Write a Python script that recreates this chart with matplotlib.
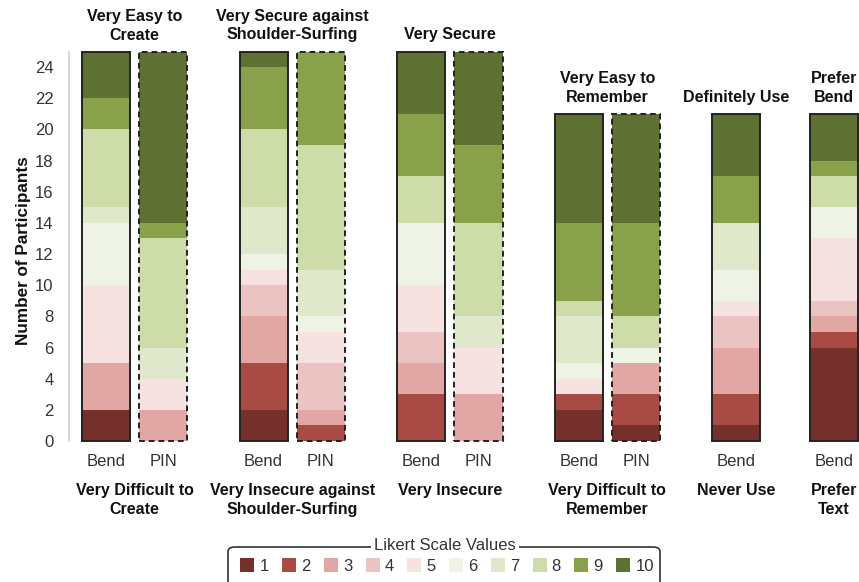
import matplotlib
matplotlib.use("Agg")
import matplotlib.pyplot as plt
from matplotlib.patches import Rectangle, FancyBboxPatch, Patch
import numpy as np

plt.rcParams['font.family'] = ['Liberation Sans', 'DejaVu Sans']

# ---- data ----
bar_labels = ["Bend", "PIN", "Bend", "PIN", "Bend", "PIN", "Bend", "PIN", "Bend", "Bend"]
bar_group = [0, 0, 1, 1, 2, 2, 3, 3, 4, 5]
top_labels = ["Very Easy to\nCreate", "Very Secure against\nShoulder-Surfing", "Very Secure",
              "Very Easy to\nRemember", "Definitely Use", "Prefer\nBend"]
bottom_labels = ["Very Difficult to\nCreate", "Very Insecure against\nShoulder-Surfing", "Very Insecure",
                 "Very Difficult to\nRemember", "Never Use", "Prefer\nText"]
likert_levels = ["1", "2", "3", "4", "5", "6", "7", "8", "9", "10"]
level_1 = [2, 0, 2, 0, 0, 0, 2, 1, 1, 6]
level_2 = [0, 0, 3, 1, 3, 0, 1, 2, 2, 1]
level_3 = [3, 2, 3, 1, 2, 3, 0, 2, 3, 1]
level_4 = [0, 0, 2, 3, 2, 0, 0, 0, 2, 1]
level_5 = [5, 2, 1, 2, 3, 3, 1, 0, 1, 4]
level_6 = [4, 0, 1, 1, 4, 0, 1, 1, 2, 2]
level_7 = [1, 2, 3, 3, 0, 2, 3, 0, 3, 0]
level_8 = [5, 7, 5, 8, 3, 6, 1, 2, 0, 2]
level_9 = [2, 1, 4, 6, 4, 5, 5, 6, 3, 1]
level_10 = [3, 11, 1, 0, 4, 6, 7, 7, 4, 3]
counts = [level_1, level_2, level_3, level_4, level_5, level_6, level_7, level_8, level_9, level_10]

colors = ["#76302c", "#a84b45", "#e2a6a4", "#ecc3c3", "#f5e2e1",
          "#eff3e5", "#dfe8cb", "#cddca8", "#8aa14b", "#5e7133"]

# ---- layout ----
x_pos = np.array([0, 1, 2.75, 3.75, 5.5, 6.5, 8.25, 9.25, 11, 12.7])
width = 0.84

W, H = 859, 582
fig = plt.figure(figsize=(W / 100, H / 100), dpi=100)
ax = fig.add_axes([69 / W, (H - 441) / H, (W - 69) / W, (441 - 51.5) / H])

bottoms = np.zeros(len(x_pos))
for lvl, vals in enumerate(counts):
    vals = np.array(vals, dtype=float)
    ax.bar(x_pos, vals, width=width, bottom=bottoms, color=colors[lvl],
           edgecolor='none', linewidth=0, zorder=2)
    bottoms += vals

totals = bottoms
for x, tot, lab in zip(x_pos, totals, bar_labels):
    ls = '-' if lab == "Bend" else (0, (3, 2))
    ax.add_patch(Rectangle((x - width / 2, 0), width, tot, fill=False,
                           edgecolor='#222222', linewidth=1.4, linestyle=ls,
                           zorder=3, clip_on=False))

ax.set_xlim(-0.646, 13.14)
ax.set_ylim(0, 25)
ax.set_yticks(np.arange(0, 25, 2))
ax.tick_params(axis='y', length=0, pad=11, labelsize=12, labelcolor='#333333')
ax.set_xticks(x_pos)
ax.set_xticklabels(bar_labels)
ax.tick_params(axis='x', length=0, pad=9, labelsize=12, labelcolor='#333333')
for s in ['top', 'right', 'bottom']:
    ax.spines[s].set_visible(False)
ax.spines['left'].set_color('#d0d0d0')
ax.spines['left'].set_linewidth(1.2)

ax.set_ylabel("Number of Participants", fontsize=12.3, fontweight='bold',
              color='#111111')
ax.yaxis.set_label_coords(-0.048, 0.488)

# group labels
for g in range(len(top_labels)):
    idx = [i for i, gg in enumerate(bar_group) if gg == g]
    xc = np.mean(x_pos[idx])
    top = max(totals[i] for i in idx)
    ax.annotate(top_labels[g], xy=(xc, top), xytext=(0, 9), textcoords='offset pixels',
                ha='center', va='bottom', fontsize=11.5, fontweight='bold',
                color='#111111', annotation_clip=False, linespacing=1.3)
    ax.annotate(bottom_labels[g], xy=(xc, 0), xycoords=('data', 'axes fraction'),
                xytext=(0, -42), textcoords='offset pixels',
                ha='center', va='top', fontsize=11.5, fontweight='bold',
                color='#111111', annotation_clip=False, linespacing=1.3)

# legend
handles = [Patch(facecolor=c, edgecolor='none') for c in colors]
fig.legend(handles, likert_levels, loc='center', ncol=10,
           bbox_to_anchor=(447 / W, 1 - 566 / H), frameon=False, fontsize=12,
           handlelength=0.85, handleheight=0.85, handletextpad=0.3, columnspacing=0.8,
           labelcolor='#333333')
frame = FancyBboxPatch((228 / W, -20 / H), (660 - 228) / W, (20 + 582 - 547) / H,
                       boxstyle='round,pad=0,rounding_size=0.008',
                       transform=fig.transFigure, facecolor='none',
                       edgecolor='#333333', linewidth=1.2, clip_on=False)
fig.patches.append(frame)
fig.text(445 / W, 1 - 546 / H, "Likert Scale Values", ha='center', va='center',
         fontsize=12, color='#333333',
         bbox=dict(facecolor='white', edgecolor='none', pad=2))

fig.savefig("out.png", dpi=100)
